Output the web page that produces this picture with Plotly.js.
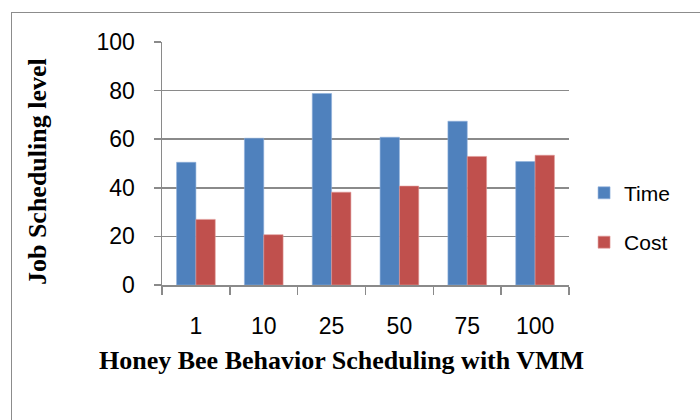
<!DOCTYPE html>
<html>
<head>
<meta charset="utf-8">
<script src="https://cdn.plot.ly/plotly-3.0.1.min.js"></script>
<style>
  html, body { margin: 0; padding: 0; background: #fff; }
  #wrap { position: relative; width: 700px; height: 420px; overflow: hidden; }
  #chart { width: 700px; height: 420px; }
  #frame { position: absolute; left: 11px; top: 12px; width: 720px; height: 440px;
           border: 1.5px solid #8c8c8c; pointer-events: none; }
</style>
</head>
<body>
<div id="wrap">
  <div id="chart"></div>
  <div id="frame"></div>
</div>
<script>
const categories = ["1", "10", "25", "50", "75", "100"];
const timeValues = [50.5, 60.4, 78.8, 60.8, 67.4, 50.8];
const costValues = [27.0, 20.7, 38.2, 40.7, 52.9, 53.4];
const yTicks = [0, 20, 40, 60, 80, 100];
const xTitle = "Honey Bee Behavior Scheduling with VMM";
const yTitle = "Job Scheduling level";

const gridColor = "#8a8a8a";
const titleFont = { family: "Liberation Serif, Times New Roman, serif", size: 26, color: "#000", weight: "bold" };

const traces = [
  { type: "bar", name: "Time", x: categories, y: timeValues,
    marker: { color: "#4F81BD", line: { color: "#8fb0dc", width: 0.6 } }, legendgroup: "t" },
  { type: "bar", name: "Cost", x: categories, y: costValues,
    marker: { color: "#C0504D", line: { color: "#e09a98", width: 0.6 } }, legendgroup: "c" }
];

const layout = {
  width: 700, height: 420,
  margin: { l: 162, r: 131, t: 42, b: 135 },
  paper_bgcolor: "#fff", plot_bgcolor: "#fff",
  barmode: "group", bargap: 0.43, bargroupgap: 0,
  showlegend: true,
  legend: { x: 1.037, xanchor: "left", y: 0.277, yanchor: "middle",
            font: { family: "Liberation Sans, Arial, sans-serif", size: 21, color: "#000" },
            tracegroupgap: 19, itemwidth: 30 },
  xaxis: {
    type: "category",
    showline: true, linecolor: gridColor, linewidth: 1.5,
    ticks: "outside", ticklen: 8, tickwidth: 1.5, tickcolor: gridColor,
    tickson: "boundaries",
    ticklabelstandoff: 20,
    tickfont: { family: "Liberation Sans, Arial, sans-serif", size: 23, color: "#000" },
    showgrid: false, zeroline: false
  },
  yaxis: {
    range: [0, 100], tickvals: yTicks, ticktext: yTicks.map(String),
    showline: true, linecolor: gridColor, linewidth: 1.5,
    ticks: "outside", ticklen: 7, tickwidth: 1.5, tickcolor: gridColor,
    ticklabelstandoff: 14,
    showgrid: true, gridcolor: gridColor, gridwidth: 1.5,
    zeroline: false,
    tickfont: { family: "Liberation Sans, Arial, sans-serif", size: 23, color: "#000" }
  },
  annotations: [
    { text: xTitle, xref: "paper", yref: "paper", x: 0.441, y: -0.309,
      xanchor: "center", yanchor: "middle", showarrow: false, font: titleFont },
    { text: yTitle, xref: "paper", yref: "paper", x: -0.307, y: 0.465,
      xanchor: "center", yanchor: "middle", textangle: -90, showarrow: false, font: titleFont }
  ]
};

Plotly.newPlot("chart", traces, layout, { displayModeBar: false, staticPlot: true });
</script>
</body>
</html>
